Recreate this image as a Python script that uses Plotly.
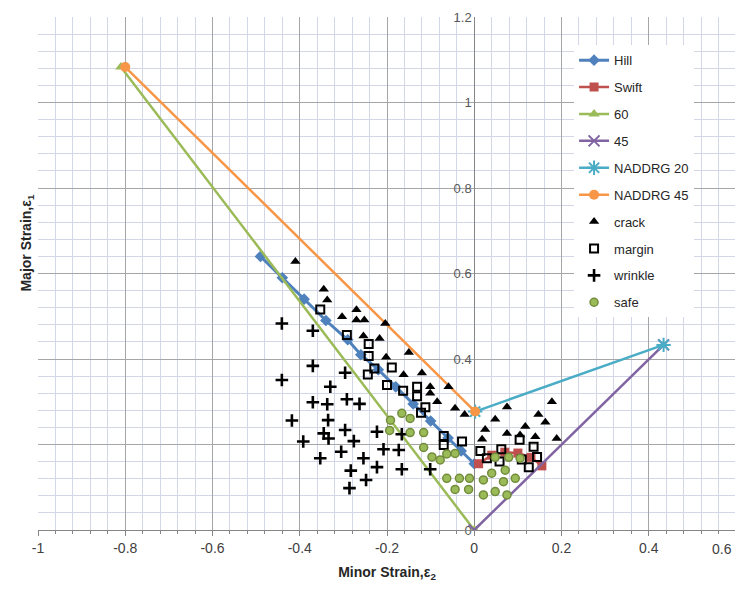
import plotly.graph_objects as go

# ---- data ----
hill_x = [-0.49, -0.44, -0.39, -0.34, -0.29, -0.26, -0.22, -0.18, -0.14, -0.10, -0.06, -0.03, 0.0]
hill_y = [0.64, 0.59, 0.54, 0.49, 0.445, 0.41, 0.375, 0.335, 0.295, 0.255, 0.215, 0.185, 0.155]

swift_x = [0.01, 0.04, 0.07, 0.10, 0.13, 0.155]
swift_y = [0.155, 0.175, 0.182, 0.18, 0.17, 0.15]

l60_x = [-0.81, 0.0]
l60_y = [1.083, 0.0]

l45_x = [0.0, 0.434]
l45_y = [0.0, 0.433]

naddrg20_x = [0.002, 0.434]
naddrg20_y = [0.277, 0.433]

naddrg45_x = [-0.80, 0.002]
naddrg45_y = [1.083, 0.277]

crack_x = [-0.41, -0.345, -0.337, -0.303, -0.27, -0.27, -0.252, -0.204, -0.254, -0.217,
           -0.15, -0.202, -0.162, -0.12, -0.101, -0.101, -0.059, -0.085, -0.044, -0.022,
           0.018, 0.025, 0.048, 0.075, 0.075, 0.105, 0.117, 0.14, 0.147, 0.163, 0.178, 0.189]
crack_y = [0.628, 0.563, 0.538, 0.499, 0.515, 0.491, 0.491, 0.483, 0.454, 0.448,
           0.415, 0.404, 0.363, 0.367, 0.335, 0.32, 0.335, 0.30, 0.285, 0.27,
           0.212, 0.235, 0.259, 0.288, 0.226, 0.222, 0.242, 0.218, 0.27, 0.252, 0.30, 0.214]

margin_x = [-0.353, -0.292, -0.242, -0.242, -0.229, -0.244, -0.189, -0.200, -0.163, -0.131,
            -0.131, -0.112, -0.122, -0.070, -0.070, -0.028, 0.014, 0.029, 0.062, 0.058,
            0.104, 0.109, 0.136, 0.144, 0.125]
margin_y = [0.516, 0.456, 0.435, 0.407, 0.378, 0.364, 0.380, 0.339, 0.326, 0.335,
            0.313, 0.287, 0.274, 0.220, 0.199, 0.207, 0.185, 0.168, 0.189, 0.160,
            0.211, 0.165, 0.195, 0.171, 0.147]

wrinkle_x = [-0.441, -0.370, -0.370, -0.441, -0.296, -0.330, -0.292, -0.370, -0.337, -0.263,
             -0.418, -0.335, -0.296, -0.345, -0.334, -0.392, -0.276, -0.223, -0.166, -0.208,
             -0.173, -0.305, -0.254, -0.353, -0.223, -0.166, -0.101, -0.283, -0.248, -0.286]
wrinkle_y = [0.483, 0.466, 0.384, 0.351, 0.368, 0.335, 0.306, 0.299, 0.294, 0.295,
             0.256, 0.257, 0.234, 0.226, 0.214, 0.207, 0.208, 0.230, 0.224, 0.189,
             0.187, 0.183, 0.168, 0.168, 0.147, 0.142, 0.142, 0.139, 0.117, 0.098]

safe_x = [-0.166, -0.147, -0.192, -0.194, -0.147, -0.116, -0.116, -0.097, -0.078, -0.063,
          -0.044, -0.063, -0.034, -0.011, -0.044, -0.013, 0.021, 0.040, 0.071, 0.094,
          0.067, 0.021, 0.048, 0.075, 0.048, 0.079, 0.105]
safe_y = [0.273, 0.261, 0.257, 0.233, 0.228, 0.228, 0.193, 0.171, 0.164, 0.178,
          0.179, 0.121, 0.121, 0.121, 0.095, 0.095, 0.117, 0.133, 0.140, 0.121,
          0.113, 0.082, 0.090, 0.082, 0.170, 0.170, 0.168]

x_tickvals = [-1, -0.8, -0.6, -0.4, -0.2, 0, 0.2, 0.4, 0.6]
x_ticktext = ["-1", "-0.8", "-0.6", "-0.4", "-0.2", "0", "0.2", "0.4", "0.6"]
y_tickvals = [0, 0.4, 0.6, 0.8, 1.0, 1.2]
y_ticktext = ["0", "0.4", "0.6", "0.8", "1", "1.2"]

FONT = "Liberation Sans Narrow, Liberation Sans, Arial, sans-serif"

fig = go.Figure()

def line_trace(x, y, name, color, symbol, msize, width=2.5, mline=None):
    marker = dict(symbol=symbol, size=msize, color=color)
    if mline:
        marker["line"] = dict(color=color, width=mline)
    return go.Scatter(x=x, y=y, name=name, mode="lines+markers",
                      line=dict(color=color, width=width), marker=marker,
                      legendgroup=name)

fig.add_trace(line_trace(hill_x, hill_y, "Hill", "#4F81BD", "diamond", 9, width=3))
fig.add_trace(line_trace(swift_x, swift_y, "Swift", "#C0504D", "square", 9))
fig.add_trace(line_trace(l60_x, l60_y, "60", "#9BBB59", "triangle-up", 10))
fig.add_trace(line_trace(l45_x, l45_y, "45", "#8064A2", "x-thin-open", 11, mline=2))
fig.add_trace(line_trace(naddrg20_x, naddrg20_y, "NADDRG 20", "#4BACC6", "asterisk-open", 12, mline=2))
fig.add_trace(line_trace(naddrg45_x, naddrg45_y, "NADDRG 45", "#F79646", "circle", 10))

fig.add_trace(go.Scatter(x=crack_x, y=crack_y, name="crack", mode="markers", legendgroup="crack",
                         marker=dict(symbol="triangle-up", size=9, color="black")))
fig.add_trace(go.Scatter(x=margin_x, y=margin_y, name="margin", mode="markers", legendgroup="margin",
                         marker=dict(symbol="square-open", size=8, color="black", line=dict(width=2))))
fig.add_trace(go.Scatter(x=wrinkle_x, y=wrinkle_y, name="wrinkle", mode="markers", legendgroup="wrinkle",
                         marker=dict(symbol="cross-thin-open", size=9, color="black", line=dict(width=2.6))))
fig.add_trace(go.Scatter(x=safe_x, y=safe_y, name="safe", mode="markers", legendgroup="safe",
                         marker=dict(symbol="circle", size=8, color="#9BBB59",
                                     line=dict(color="#728C3C", width=1.5))))

# the last x tick label sits at the very edge; draw it as a right-anchored annotation so it stays whole
shown_x_ticktext = x_ticktext[:-1] + [""]

# The page body adds an 8px offset; keep the page within the 743x590 window.
fig.update_layout(
    width=735, height=574,
    margin=dict(l=30, r=7, t=9, b=52, autoexpand=False),
    plot_bgcolor="white", paper_bgcolor="white",
    font=dict(family=FONT, size=12, color="#404040"),
    showlegend=True,
    legend=dict(x=0.768, y=0.945, xanchor="left", yanchor="top",
                bgcolor="white", borderwidth=0,
                font=dict(family=FONT, size=13, color="#262626"),
                traceorder="grouped", tracegroupgap=7, itemwidth=30),
    xaxis=dict(range=[-1, 0.6], tickvals=x_tickvals, ticktext=shown_x_ticktext,
               automargin=False,
               showgrid=True, gridcolor="#A6A6A6", gridwidth=1,
               minor=dict(dtick=0.04, tick0=-1, showgrid=True, gridcolor="#D3D6E6", gridwidth=1,
                          ticks="outside", ticklen=3, tickcolor="#868686"),
               zeroline=False, showline=True, linecolor="#868686", linewidth=1,
               ticks="outside", ticklen=5, tickcolor="#868686",
               ticklabeloverflow="allow",
               tickfont=dict(size=14, color="#404040"),
               title=dict(text="<b>Minor Strain,ε<sub>2</sub></b>", font=dict(size=14, color="#262626"),
                          standoff=14)),
    yaxis=dict(range=[0, 1.2], tickvals=y_tickvals, ticktext=y_ticktext,
               anchor="free", position=0.625, side="left", automargin=False,
               showgrid=False,
               minor=dict(dtick=0.04, tick0=0, showgrid=True, gridcolor="#D3D6E6", gridwidth=1),
               zeroline=False, showline=True, linecolor="#868686", linewidth=1,
               ticks="", tickfont=dict(size=13, color="#595959"),
               layer="below traces"),
    yaxis2=dict(range=[0, 1.2], overlaying="y", dtick=0.2, showticklabels=False,
                automargin=False,
                showgrid=True, gridcolor="#A6A6A6", gridwidth=1, zeroline=False),
    annotations=[
        dict(text="<b>Major Strain,ε<sub>1</sub></b>", textangle=-90,
             xref="paper", yref="paper", x=-0.016, y=0.56,
             xanchor="center", yanchor="middle", showarrow=False,
             font=dict(family=FONT, size=14, color="#262626")),
        dict(text=x_ticktext[-1], xref="paper", yref="paper", x=0.997, y=-0.018,
             xanchor="right", yanchor="top", showarrow=False,
             font=dict(family=FONT, size=14, color="#404040")),
    ],
)

# invisible helper trace to activate the major-grid axis
fig.add_trace(go.Scatter(x=[-1], y=[0], yaxis="y2", mode="markers", showlegend=False,
                         marker=dict(opacity=0), hoverinfo="skip"))

fig.write_html("out.html")
